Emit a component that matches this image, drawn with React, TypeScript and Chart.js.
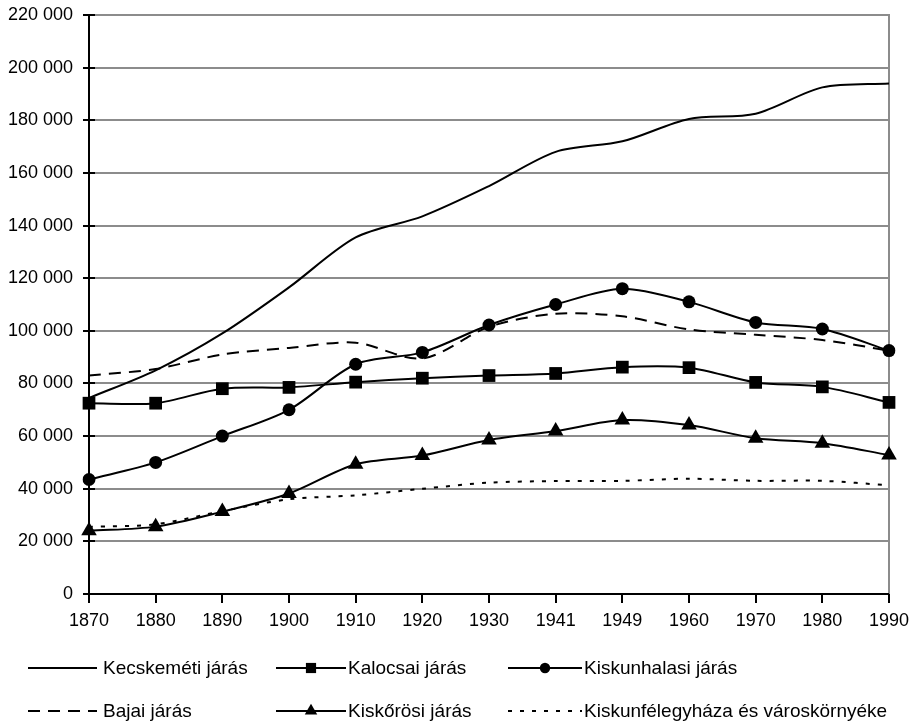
import React, { useEffect, useRef } from "react";
import { Chart, registerables } from "chart.js";

Chart.register(...registerables);

const years = ["1870", "1880", "1890", "1900", "1910", "1920", "1930", "1941", "1949", "1960", "1970", "1980", "1990"];

const kecskemeti = [74500, 85000, 99000, 116500, 135500, 143500, 155000, 168000, 172000, 180500, 182500, 192500, 194000];
const kalocsai = [72500, 72500, 78000, 78500, 80500, 82000, 83000, 83800, 86200, 86000, 80400, 78700, 72800];
const kiskunhalasi = [43500, 50000, 60000, 70000, 87300, 91800, 102200, 110000, 116000, 111000, 103200, 100700, 92500];
const bajai = [83000, 85500, 91000, 93500, 95500, 89500, 101500, 106500, 105500, 100500, 98500, 96500, 92500];
const kiskorosi = [24000, 25600, 31300, 38200, 49300, 52600, 58500, 61900, 66100, 64200, 59200, 57300, 52800];
const kiskunfelegyhaza = [25500, 26500, 31500, 36000, 37500, 40000, 42300, 42900, 43000, 43800, 43000, 43000, 41300];

const seriesLabels = [
  "Kecskeméti járás",
  "Kalocsai járás",
  "Kiskunhalasi járás",
  "Bajai járás",
  "Kiskőrösi járás",
  "Kiskunfélegyháza és városkörnyéke",
];

const yMax = 220000;
const yStep = 20000;

const FONT = "'Liberation Sans', Arial, sans-serif";

function fmt(v: number) {
  return String(v).replace(/\B(?=(\d{3})+(?!\d))/g, " ");
}

function drawMarker(ctx: CanvasRenderingContext2D, style: string, x: number, y: number, r: number) {
  ctx.beginPath();
  if (style === "rect") {
    const s = Math.SQRT1_2 * r;
    ctx.rect(x - s, y - s, 2 * s, 2 * s);
  } else if (style === "circle") {
    ctx.arc(x, y, r, 0, Math.PI * 2);
  } else if (style === "triangle") {
    ctx.moveTo(x, y - r);
    ctx.lineTo(x + Math.sin(Math.PI * 2 / 3) * r, y + r / 2);
    ctx.lineTo(x - Math.sin(Math.PI * 2 / 3) * r, y + r / 2);
    ctx.closePath();
  } else {
    return;
  }
  ctx.fill();
}

const framePlugin = {
  id: "frame",
  beforeDatasetsDraw(chart: any) {
    const { ctx, chartArea: a, scales } = chart;
    const ys = scales.y;
    const xs = scales.x;
    ctx.save();
    ctx.strokeStyle = "#8c8c8c";
    ctx.lineWidth = 2;
    ctx.beginPath();
    ctx.moveTo(a.right, a.top - 1);
    ctx.lineTo(a.right, a.bottom);
    ctx.stroke();

    ctx.strokeStyle = "#000";
    ctx.lineWidth = 2;
    ctx.beginPath();
    ys.ticks.forEach((_t: any, i: number) => {
      const py = Math.round(ys.getPixelForTick(i));
      ctx.moveTo(a.left - 6, py);
      ctx.lineTo(a.left + 6, py);
    });
    xs.ticks.forEach((_t: any, i: number) => {
      const px = Math.round(xs.getPixelForTick(i));
      ctx.moveTo(px, a.bottom);
      ctx.lineTo(px, a.bottom + 9);
    });
    ctx.moveTo(a.left, a.top);
    ctx.lineTo(a.left, a.bottom + 1);
    ctx.moveTo(a.left - 1, a.bottom);
    ctx.lineTo(a.right, a.bottom);
    ctx.stroke();
    ctx.restore();
  },
};

const legendPlugin = {
  id: "customLegend",
  afterDraw(chart: any, _args: any, opts: any) {
    const { ctx } = chart;
    const cols = opts.cols as { x1: number; x2: number; tx: number }[];
    const rows = opts.rows as number[];
    ctx.save();
    chart.data.datasets.forEach((ds: any, i: number) => {
      const col = cols[i % 3];
      const y = rows[Math.floor(i / 3)];
      ctx.strokeStyle = "#000";
      ctx.fillStyle = "#000";
      ctx.lineWidth = ds.borderWidth;
      ctx.setLineDash(ds.borderDash || []);
      ctx.beginPath();
      ctx.moveTo(col.x1, y);
      ctx.lineTo(col.x2, y);
      ctx.stroke();
      ctx.setLineDash([]);
      if (ds.pointRadius > 0) {
        drawMarker(ctx, ds.pointStyle, (col.x1 + col.x2) / 2, y, ds.pointRadius * 0.8);
      }
      ctx.font = `19px ${FONT}`;
      ctx.textBaseline = "middle";
      ctx.textAlign = "left";
      ctx.fillText(ds.label, col.tx, y + 1);
    });
    ctx.restore();
  },
};

export default function App() {
  const ref = useRef<HTMLCanvasElement>(null);

  useEffect(() => {
    const base = {
      borderColor: "#000",
      backgroundColor: "#000",
      pointBackgroundColor: "#000",
      pointBorderColor: "#000",
      pointBorderWidth: 0,
      borderWidth: 2,
      tension: 0.3,
      fill: false,
    };
    const chart = new Chart(ref.current!, {
      type: "line",
      data: {
        labels: years,
        datasets: [
          { ...base, label: seriesLabels[0], data: kecskemeti, pointRadius: 0, pointStyle: "line" },
          { ...base, label: seriesLabels[1], data: kalocsai, pointRadius: 9, pointStyle: "rect" },
          { ...base, label: seriesLabels[2], data: kiskunhalasi, pointRadius: 6.5, pointStyle: "circle" },
          { ...base, label: seriesLabels[3], data: bajai, pointRadius: 0, pointStyle: "line", borderDash: [12, 8] },
          { ...base, label: seriesLabels[4], data: kiskorosi, pointRadius: 9, pointStyle: "triangle" },
          { ...base, label: seriesLabels[5], data: kiskunfelegyhaza, pointRadius: 0, pointStyle: "line", borderDash: [4, 8] },
        ] as any,
      },
      options: {
        responsive: false,
        animation: false,
        events: [],
        layout: { padding: { top: 15, right: 24, left: 0, bottom: 0 } },
        plugins: {
          legend: { display: false },
          tooltip: { enabled: false },
          customLegend: {
            cols: [
              { x1: 28, x2: 97, tx: 103 },
              { x1: 276, x2: 346, tx: 348 },
              { x1: 508, x2: 582, tx: 584 },
            ],
            rows: [668, 711],
          },
        } as any,
        scales: {
          x: {
            type: "category",
            offset: false,
            grid: { display: true, color: "rgba(0,0,0,0)", drawTicks: true, tickLength: 16, tickColor: "rgba(0,0,0,0)" },
            border: { display: false },
            ticks: {
              color: "#000",
              font: { family: FONT, size: 18 },
              padding: 0,
              maxRotation: 0,
              autoSkip: false,
            },
            afterFit(scale: any) {
              scale.height = 132;
            },
          },
          y: {
            min: 0,
            max: yMax,
            grid: { color: "#8c8c8c", lineWidth: 2, drawTicks: true, tickLength: 16, tickColor: "rgba(0,0,0,0)" },
            border: { display: false },
            ticks: {
              stepSize: yStep,
              color: "#000",
              font: { family: FONT, size: 18 },
              padding: 0,
              callback: (v: any) => fmt(Number(v)),
            },
            afterFit(scale: any) {
              scale.width = 89;
            },
          },
        },
      },
      plugins: [framePlugin, legendPlugin],
    });
    return () => chart.destroy();
  }, []);

  return (
    <div style={{ position: "absolute", left: 0, top: 0, width: 913, height: 726, background: "#fff" }}>
      <canvas ref={ref} width={913} height={726} />
    </div>
  );
}
